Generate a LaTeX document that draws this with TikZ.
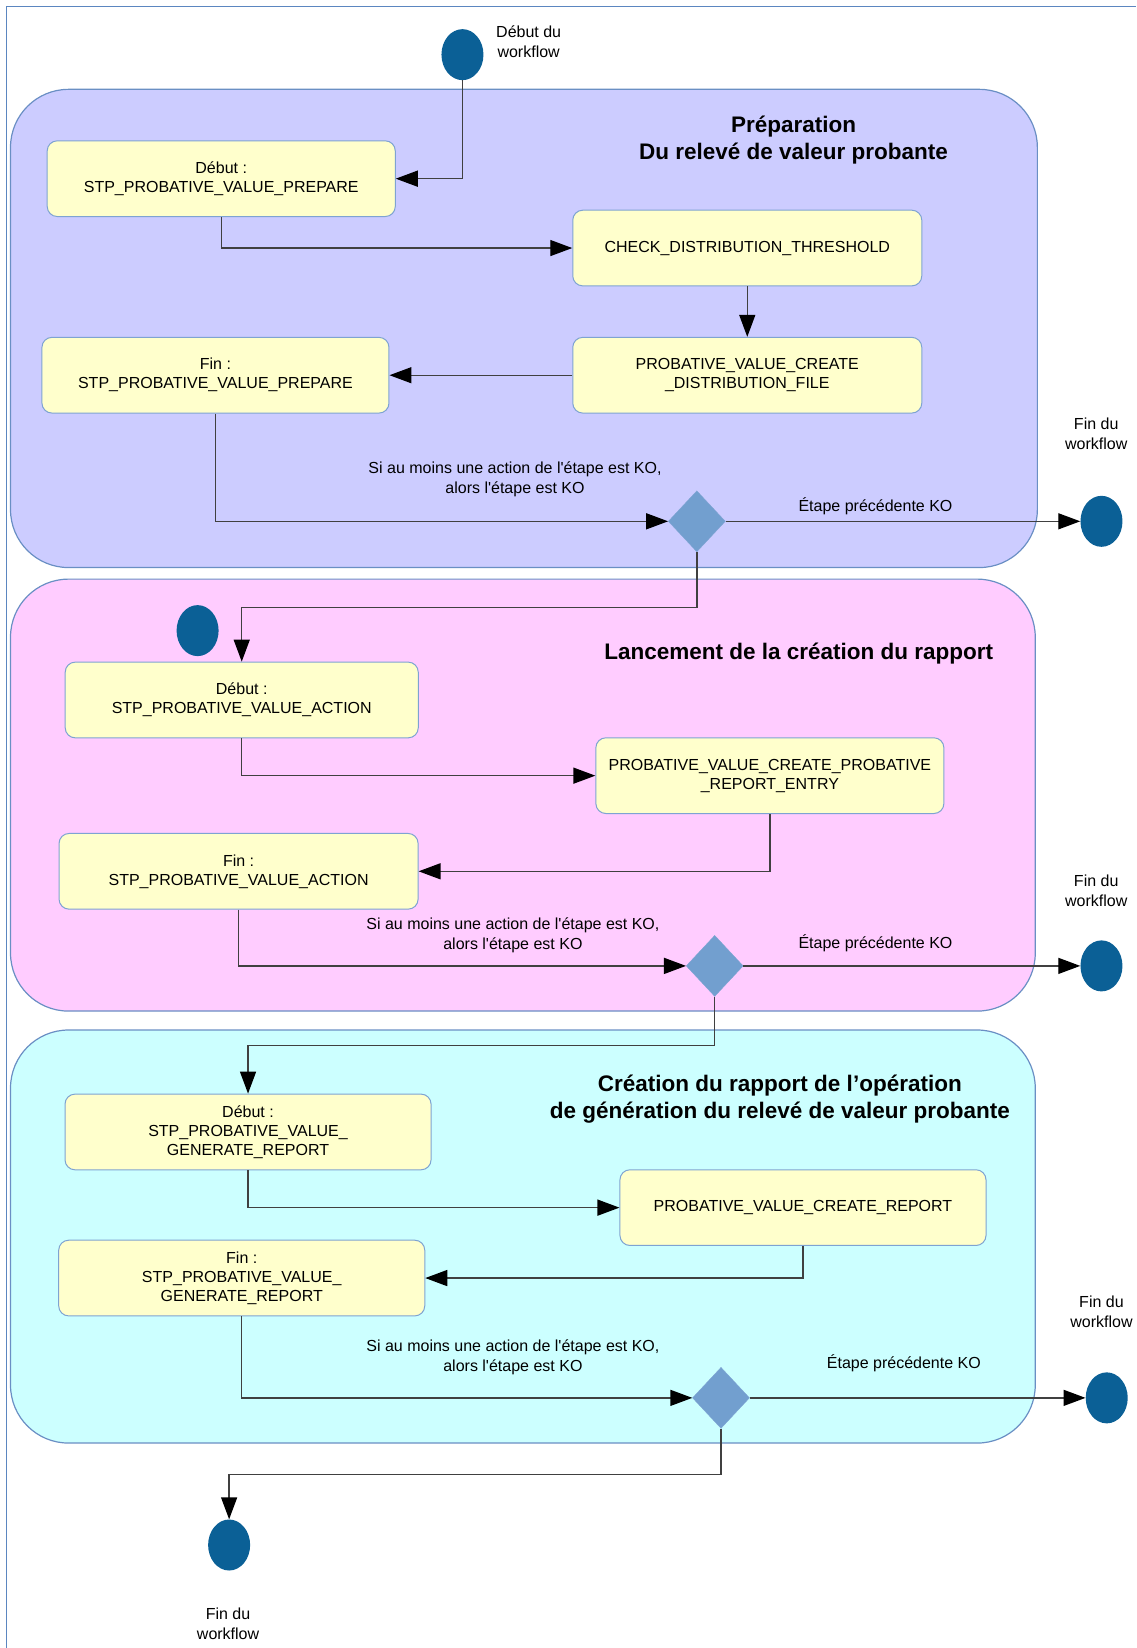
\documentclass[tikz,border=0pt]{standalone}
\usepackage{fontspec}
\setmainfont{Liberation Sans}
\usetikzlibrary{arrows.meta,shapes.geometric,positioning}
\definecolor{cadre}{HTML}{5B86C0}
\definecolor{bordure}{HTML}{6A8FC4}
\definecolor{prepa}{HTML}{CCCCFF}
\definecolor{lancement}{HTML}{FFCCFF}
\definecolor{creation}{HTML}{CCFFFF}
\definecolor{etapefond}{HTML}{FFFFCC}
\definecolor{etapebord}{HTML}{7EA3D2}
\definecolor{jeton}{HTML}{0B6096}
\definecolor{losange}{HTML}{729FCF}
\definecolor{trait}{HTML}{404040}

\begin{document}
\begin{tikzpicture}[x=1.0509pt,y=-1.0509pt,
	couloir/.style={draw=bordure,line width=1.2pt,rounded corners=58pt},
	etape/.style={draw=etapebord,fill=etapefond,line width=1pt,rounded corners=10pt,
		minimum height=75.7pt,align=center,inner sep=2pt,font=\fontsize{16}{19}\selectfont},
	jalon/.style={ellipse,fill=jeton,minimum width=42pt,minimum height=51pt,inner sep=0pt},
	choix/.style={diamond,draw=etapebord,fill=losange,minimum width=57pt,minimum height=61pt,inner sep=0pt},
	titre/.style={align=center,font=\fontsize{22.5}{27}\selectfont\bfseries},
	legende/.style={align=center,font=\fontsize{16}{20}\selectfont},
	fleche/.style={draw=trait,line width=1.4pt,-{Triangle[length=22pt,width=16pt,color=black]}}]

	\useasboundingbox (0,0) rectangle (1081,1568);
	\draw [cadre,line width=1.3pt](6,1568)--(6,6)--(1081,6);

	\draw [couloir,fill=prepa](10,85)rectangle(987,540);
	\draw [couloir,fill=lancement](10,551)rectangle(985,962);
	\draw [couloir,fill=creation](10,980)rectangle(985,1373);

	\node [titre] (titrePrepa) at (755,133) {Préparation\\Du relevé de valeur probante};
	\node [titre] (titreLancement) at (760,622) {Lancement de la création du rapport};
	\node [titre] (titreCreation) at (742,1046) {Création du rapport de l’opération\\de génération du relevé de valeur probante};

	\node [jalon] (debutWf) at (440,52) {};
	\node [legende] (txtDebutWf) at (503,40) {Début du\\workflow};

	\node [etape,minimum width=348pt] (debutPrepa) at (210.5,170) {Début :\\STP\_PROBATIVE\_VALUE\_PREPARE};
	\node [etape,minimum width=349pt] (check) at (711,236) {CHECK\_DISTRIBUTION\_THRESHOLD};
	\node [etape,minimum width=349pt] (distrib) at (711,357) {PROBATIVE\_VALUE\_CREATE\\\_DISTRIBUTION\_FILE};
	\node [etape,minimum width=347pt] (finPrepa) at (205,357) {Fin :\\STP\_PROBATIVE\_VALUE\_PREPARE};
	\node [choix] (choixPrepa) at (663,496) {};
	\node [jalon] (finWfPrepa) at (1048,496) {};

	\node [jalon] (debutLancement) at (188,600) {};
	\node [etape,minimum width=353pt] (debutAction) at (230,666) {Début :\\STP\_PROBATIVE\_VALUE\_ACTION};
	\node [etape,minimum width=348pt] (entry) at (732.5,738) {PROBATIVE\_VALUE\_CREATE\_PROBATIVE\\\_REPORT\_ENTRY};
	\node [etape,minimum width=359pt] (finAction) at (227,829) {Fin :\\STP\_PROBATIVE\_VALUE\_ACTION};
	\node [choix] (choixAction) at (680,919) {};
	\node [jalon] (finWfAction) at (1048,919) {};

	\node [etape,minimum width=366pt] (debutGenerate) at (236,1077) {Début :\\STP\_PROBATIVE\_VALUE\_\\GENERATE\_REPORT};
	\node [etape,minimum width=366pt] (report) at (764,1149) {PROBATIVE\_VALUE\_CREATE\_REPORT};
	\node [etape,minimum width=366pt] (finGenerate) at (230,1216) {Fin :\\STP\_PROBATIVE\_VALUE\_\\GENERATE\_REPORT};
	\node [choix] (choixGenerate) at (686,1330) {};
	\node [jalon] (finWfGenerate) at (1053,1330) {};
	\node [jalon] (finWf) at (218,1470) {};

	\node [legende] (koPrepa) at (490,456) {Si au moins une action de l\textquotesingle étape est KO,\\alors l\textquotesingle étape est KO};
	\node [legende] (koAction) at (488,890) {Si au moins une action de l\textquotesingle étape est KO,\\alors l\textquotesingle étape est KO};
	\node [legende] (koGenerate) at (488,1291) {Si au moins une action de l\textquotesingle étape est KO,\\alors l\textquotesingle étape est KO};
	\node [legende] (precPrepa) at (833,482) {Étape précédente KO};
	\node [legende] (precAction) at (833,897) {Étape précédente KO};
	\node [legende] (precGenerate) at (860,1297) {Étape précédente KO};
	\node [legende] (txtFinPrepa) at (1043,413) {Fin du\\workflow};
	\node [legende] (txtFinAction) at (1043,848) {Fin du\\workflow};
	\node [legende] (txtFinGenerate) at (1048,1248) {Fin du\\workflow};
	\node [legende] (txtFinWf) at (217,1545) {Fin du\\workflow};

	\coordinate (coudePrepa) at (230,578);
	\coordinate (coudeAction) at (236,995);
	\coordinate (coudeGenerate) at (218,1403);

	\draw [fleche](debutWf.south)|-(debutPrepa.east);
	\draw [fleche](debutPrepa.south)|-(check.west);
	\draw [fleche](check.south)--(distrib.north);
	\draw [fleche](distrib.west)--(finPrepa.east);
	\draw [fleche](finPrepa.south)|-(choixPrepa.west);
	\draw [fleche](choixPrepa.east)--(finWfPrepa.west);
	\draw [fleche](choixPrepa.south)|-(coudePrepa)--(debutAction.north);

	\draw [fleche](debutAction.south)|-(entry.west);
	\draw [fleche](entry.south)|-(finAction.east);
	\draw [fleche](finAction.south)|-(choixAction.west);
	\draw [fleche](choixAction.east)--(finWfAction.west);
	\draw [fleche](choixAction.south)|-(coudeAction)--(debutGenerate.north);

	\draw [fleche](debutGenerate.south)|-(report.west);
	\draw [fleche](report.south)|-(finGenerate.east);
	\draw [fleche](finGenerate.south)|-(choixGenerate.west);
	\draw [fleche](choixGenerate.east)--(finWfGenerate.west);
	\draw [fleche](choixGenerate.south)|-(coudeGenerate)--(finWf.north);

\end{tikzpicture}
\end{document}
